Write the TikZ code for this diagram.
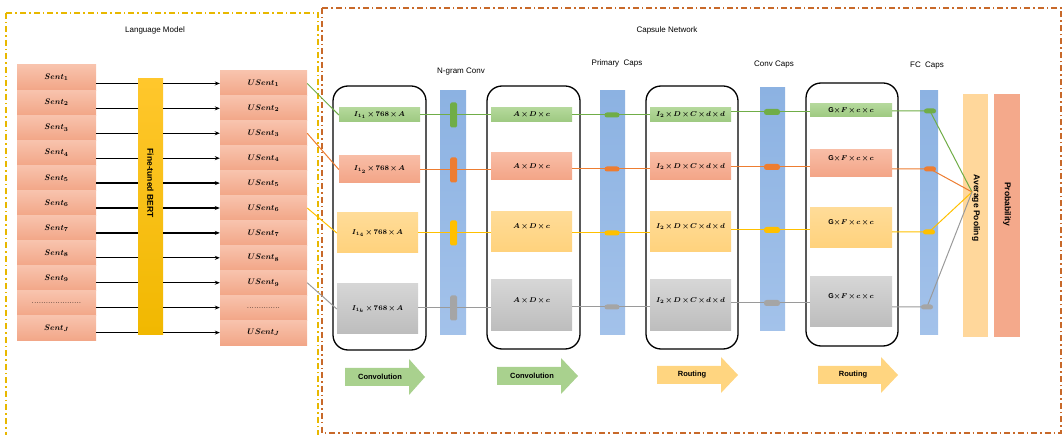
\documentclass[tikz,border=0pt]{standalone}
\usepackage{fix-cm}
\usepackage{fontspec}
\newfontfamily\lsans{Liberation Sans}
\usetikzlibrary{arrows.meta,calc}
\newcommand\tightmath{\medmuskip=2mu\relax}
\definecolor{salT}{HTML}{F8C3AD}
\definecolor{salB}{HTML}{F2A687}
\definecolor{grT}{HTML}{B4D89B}
\definecolor{grB}{HTML}{9DC980}
\definecolor{orT}{HTML}{F8BDA6}
\definecolor{orB}{HTML}{F3A486}
\definecolor{yeT}{HTML}{FFDC98}
\definecolor{yeB}{HTML}{FFD27C}
\definecolor{gyT}{HTML}{D6D6D6}
\definecolor{gyB}{HTML}{BDBDBD}
\definecolor{blT}{HTML}{8CB2E2}
\definecolor{blB}{HTML}{A3C2EA}
\definecolor{bertT}{HTML}{FFC72C}
\definecolor{bertB}{HTML}{F1B800}
\definecolor{avgc}{HTML}{FFD79B}
\definecolor{probc}{HTML}{F4A98B}
\definecolor{lgreen}{HTML}{70AD47}
\definecolor{lorange}{HTML}{ED7D31}
\definecolor{lyellow}{HTML}{FFC000}
\definecolor{lgray}{HTML}{9A9A9A}
\definecolor{pgray}{HTML}{A5A5A5}
\definecolor{arrgreen}{HTML}{A9D18E}
\definecolor{arrorange}{HTML}{FFD580}
\definecolor{lmdash}{HTML}{E8B800}
\definecolor{cndash}{HTML}{C8692A}
\begin{document}
\begin{tikzpicture}[x=1pt,y=-1pt,
  ttl/.style={font=\lsans\fontsize{8}{9}\selectfont, inner sep=0},
  vlab/.style={font=\lsans\bfseries\fontsize{8.5}{10}\selectfont, inner sep=0, rotate=-90},
  albl/.style={font=\lsans\bfseries\fontsize{7.5}{9}\selectfont, inner sep=0},
  sentbox/.style={rectangle, inner sep=0, minimum width=79pt, minimum height=25.1pt,
    top color=salT, bottom color=salB, font=\fontsize{8}{9}\selectfont\boldmath},
  inbox/.style={rectangle, inner sep=0, font=\fontsize{7}{8}\selectfont\boldmath\tightmath},
  mtxt/.style={inner sep=0, font=\fontsize{7}{8}\selectfont\boldmath\tightmath},
  gbox/.style={inbox, top color=grT, bottom color=grB},
  obox/.style={inbox, top color=orT, bottom color=orB},
  ybox/.style={inbox, top color=yeT, bottom color=yeB},
  kbox/.style={inbox, top color=gyT, bottom color=gyB},
  bar/.style={rectangle, inner sep=0, top color=blT, bottom color=blB},
  rbox/.style={rectangle, draw=black, line width=1.3pt, rounded corners=15pt, inner sep=0},
  ln/.style={line width=1.2pt, black},
  gline/.style={line width=1pt, lgreen},
  oline/.style={line width=1pt, lorange},
  yline/.style={line width=1pt, lyellow},
  kline/.style={line width=1pt, lgray},
  vpill/.style={rectangle, rounded corners=1.5pt, inner sep=0, minimum width=7pt, minimum height=25pt},
  hpill/.style={rectangle, rounded corners=2.5pt, inner sep=0, minimum width=15pt, minimum height=5pt},
  lmbox/.style={draw=lmdash, line width=1.1pt, dash pattern=on 6pt off 3pt on 1.5pt off 3pt},
  cnbox/.style={draw=cndash, line width=1.1pt, dash pattern=on 6pt off 3pt on 1.5pt off 3pt},
]
\useasboundingbox (0,0) rectangle (1063,435);

% outer dashed frames
\draw[lmbox] (6,13) rectangle (318,440);
\draw[cnbox] (322,8) rectangle (1061,433);
\node[ttl] (tlm) at (155,30) {Language Model};
\node[ttl] (tcn) at (667,30) {Capsule Network};

% sentence columns
\foreach \i in {1,...,9}{
  \pgfmathsetmacro\yy{65+25.09*(\i-0.5)}
  \node[sentbox] (s\i) at (56.5,\yy) {$Sent_{\i}$};
  \pgfmathsetmacro\yu{71+24.91*(\i-0.5)}
  \node[sentbox, minimum width=87pt, minimum height=24.95pt] (u\i) at (263.5,\yu) {$USent_{\i}$};
}
\node[sentbox] (s10) at (56.5,303.4) {.....................};
\node[sentbox] (s11) at (56.5,328.4) {$Sent_J$};
\node[sentbox, minimum width=87pt, minimum height=24.95pt] (u10) at (263.5,307.6) {..............};
\node[sentbox, minimum width=87pt, minimum height=24.95pt] (u11) at (263.5,332.6) {$USent_J$};

% BERT
\node[rectangle, inner sep=0, minimum width=25pt, minimum height=256pt, top color=bertT, bottom color=bertB] (bert) at (150.5,207) {};
\node[vlab] (bertl) at (150.5,183) {Fine-tuned BERT};

\foreach \i in {1,...,11}{
  \draw[ln] (u\i.west -| s\i.east) -- (u\i.west -| bert.west);
  \draw[ln,-{Stealth[length=5pt,width=4pt]}] (u\i.west -| bert.east) -- (u\i.west);
}

% rounded containers
\node[rbox, minimum width=93pt, minimum height=264pt] (r1) at (379.5,218) {};
\node[rbox, minimum width=93pt, minimum height=263pt] (r2) at (533.5,217.5) {};
\node[rbox, minimum width=92pt, minimum height=263pt] (r3) at (692,217.5) {};
\node[rbox, minimum width=92pt, minimum height=263pt] (r4) at (852,214.5) {};

% bars
\node[bar, minimum width=26pt, minimum height=244pt] (ngram) at (453,213) {};
\node[bar, minimum width=25pt, minimum height=244pt] (pcaps) at (612.5,213) {};
\node[bar, minimum width=25pt, minimum height=243pt] (ccaps) at (772.5,209.5) {};
\node[bar, minimum width=18pt, minimum height=244pt] (fcaps) at (929,213) {};
\node[rectangle, inner sep=0, minimum width=25pt, minimum height=243pt, fill=avgc] (avgp) at (975.5,215.5) {};
\node[rectangle, inner sep=0, minimum width=26pt, minimum height=243pt, fill=probc] (prob) at (1007,215.5) {};
\node[vlab] (avgl) at (976,208) {Average Pooling};
\node[vlab] (probl) at (1007,204) {Probability};

\node[ttl] (tng) at (461,72) {N-gram Conv};
\node[ttl] (tpc) at (617,63) {Primary\ \ Caps};
\node[ttl] (tcc) at (774,65) {Conv Caps};
\node[ttl] (tfc) at (927,66) {FC\ \ Caps};

% column I
\node[gbox, minimum width=81pt, minimum height=14pt] (ia) at (379.5,115) {$I_{1_1}\times 768\times A$};
\node[obox, minimum width=81pt, minimum height=27pt] (ib) at (379.5,169.5) {$I_{1_2}\times 768\times A$};
\node[ybox, minimum width=81pt, minimum height=40pt] (ic) at (377.5,233) {$I_{1_4}\times 768\times A$};
\node[kbox, minimum width=81pt, minimum height=50pt] (id) at (377.5,309) {$I_{1_k}\times 768\times A$};
% column A
\node[gbox, minimum width=81pt, minimum height=14pt] (aa) at (531.5,115) {$A\times D\times c$};
\node[obox, minimum width=81pt, minimum height=27pt] (ab) at (531.5,166.5) {$A\times D\times c$};
\node[ybox, minimum width=81pt, minimum height=40pt] (ac) at (531.5,232) {};
\node[kbox, minimum width=81pt, minimum height=51pt] (ad) at (531.5,305.5) {};
\node[mtxt] (acl) at ([yshift=5pt]ac.center) {$A\times D\times c$};
\node[mtxt] (adl) at ([yshift=4.5pt]ad.center) {$A\times D\times c$};
% column P
\node[gbox, minimum width=81pt, minimum height=14pt] (pa) at (690.5,115) {$I_2\times D\times C\times d\times d$};
\node[obox, minimum width=81pt, minimum height=27pt] (pb) at (690.5,166.5) {$I_2\times D\times C\times d\times d$};
\node[ybox, minimum width=81pt, minimum height=40pt] (pc) at (690.5,232) {};
\node[kbox, minimum width=81pt, minimum height=51pt] (pd) at (690.5,305.5) {};
\node[mtxt] (pcl) at ([yshift=5pt]pc.center) {$I_2\times D\times C\times d\times d$};
\node[mtxt] (pdl) at ([yshift=4.5pt]pd.center) {$I_2\times D\times C\times d\times d$};
% column G
\node[gbox, minimum width=82pt, minimum height=13pt] (ga) at (851,110.5) {{\lsans\bfseries G}$\times F\times c\times c$};
\node[obox, minimum width=82pt, minimum height=27pt] (gb) at (851,163.5) {};
\node[ybox, minimum width=82pt, minimum height=40pt] (gc) at (851,228) {};
\node[kbox, minimum width=82pt, minimum height=50pt] (gd) at (851,302) {};
\node[mtxt] (gbl) at ([yshift=5pt]gb.center) {{\lsans\bfseries G}$\times F\times c\times c$};
\node[mtxt] (gcl) at ([yshift=5pt]gc.center) {{\lsans\bfseries G}$\times F\times c\times c$};
\node[mtxt] (gdl) at ([yshift=5pt]gd.center) {{\lsans\bfseries G}$\times F\times c\times c$};

% pill positions
\coordinate (na) at (453.5,115); \coordinate (nb) at (453.5,170);
\coordinate (nc) at (453.5,233); \coordinate (nd) at (453.5,308);
\coordinate (qa) at (612,115); \coordinate (qb) at (612,169);
\coordinate (qc) at (612,233); \coordinate (qd) at (612,307);
\coordinate (ka) at (772,112); \coordinate (kb) at (772,167);
\coordinate (kc) at (772,230); \coordinate (kd) at (772,303);
\coordinate (fa) at (930,111); \coordinate (fb) at (930,169);
\coordinate (fc) at (929,232); \coordinate (fd) at (927,307);
\coordinate (mrg) at (972,192);

% connectors from USent
\draw[gline] (u1.east) -- (ia.west);
\draw[oline] (u3.east) -- (ib.west);
\draw[yline] (u6.east) -- (ic.west);
\draw[kline] (u9.east) -- (id.west);

% stage lines
\draw[gline] (ia.east |- na) -- (na -| aa.west);
\draw[oline] (ib.east |- nb) -- (nb -| ab.west);
\draw[yline] (ic.east |- nc) -- (nc -| ac.west);
\draw[kline] (id.east |- nd) -- (nd -| ad.west);
\draw[gline] (aa.east |- qa) -- (qa -| pa.west);
\draw[oline] (ab.east |- qb) -- (qb -| pb.west);
\draw[yline] (ac.east |- qc) -- (qc -| pc.west);
\draw[kline] (ad.east |- qd) -- (qd -| pd.west);
\draw[gline] (pa.east |- ka) -- (ka -| ga.west);
\draw[oline] (pb.east |- kb) -- (kb -| gb.west);
\draw[yline] (pc.east |- kc) -- (kc -| gc.west);
\draw[kline] (pd.east |- kd) -- (kd -| gd.west);
\draw[gline] (ga.east |- fa) -- (fa) -- (mrg);
\draw[oline] (gb.east |- fb) -- (fb) -- (mrg);
\draw[yline] (gc.east |- fc) -- (fc) -- (mrg);
\draw[kline] (gd.east |- fd) -- (fd) -- (mrg);

% pills
\node[vpill, fill=lgreen] (pna) at (na) {};
\node[vpill, fill=lorange] (pnb) at (nb) {};
\node[vpill, fill=lyellow] (pnc) at (nc) {};
\node[vpill, fill=pgray] (pnd) at (nd) {};
\node[hpill, fill=lgreen] (pqa) at (qa) {};
\node[hpill, fill=lorange] (pqb) at (qb) {};
\node[hpill, fill=lyellow] (pqc) at (qc) {};
\node[hpill, fill=pgray] (pqd) at (qd) {};
\node[hpill, minimum height=6pt, minimum width=16pt, fill=lgreen] (pka) at (ka) {};
\node[hpill, minimum height=6pt, minimum width=16pt, fill=lorange] (pkb) at (kb) {};
\node[hpill, minimum height=6pt, minimum width=16pt, fill=lyellow] (pkc) at (kc) {};
\node[hpill, minimum height=6pt, minimum width=16pt, fill=pgray] (pkd) at (kd) {};
\node[hpill, minimum width=12pt, fill=lgreen] (pfa) at (fa) {};
\node[hpill, minimum width=12pt, fill=lorange] (pfb) at (fb) {};
\node[hpill, minimum width=12pt, fill=lyellow] (pfc) at (fc) {};
\node[hpill, minimum width=12pt, fill=pgray] (pfd) at (fd) {};

% bottom block arrows
\fill[arrgreen] (345,368) -- (409,368) -- (409,359) -- (425,377) -- (409,395) -- (409,386) -- (345,386) -- cycle;
\node[albl] (ar1) at (380,377) {Convolution};
\fill[arrgreen] (497,367) -- (561,367) -- (561,358) -- (578,376) -- (561,394) -- (561,385) -- (497,385) -- cycle;
\node[albl] (ar2) at (532,376) {Convolution};
\fill[arrorange] (657,366) -- (721,366) -- (721,357) -- (738,375) -- (721,393) -- (721,384) -- (657,384) -- cycle;
\node[albl] (ar3) at (692,375) {Routing};
\fill[arrorange] (818,366) -- (881,366) -- (881,357) -- (898,375) -- (881,393) -- (881,384) -- (818,384) -- cycle;
\node[albl] (ar4) at (853,375) {Routing};
\end{tikzpicture}
\end{document}
